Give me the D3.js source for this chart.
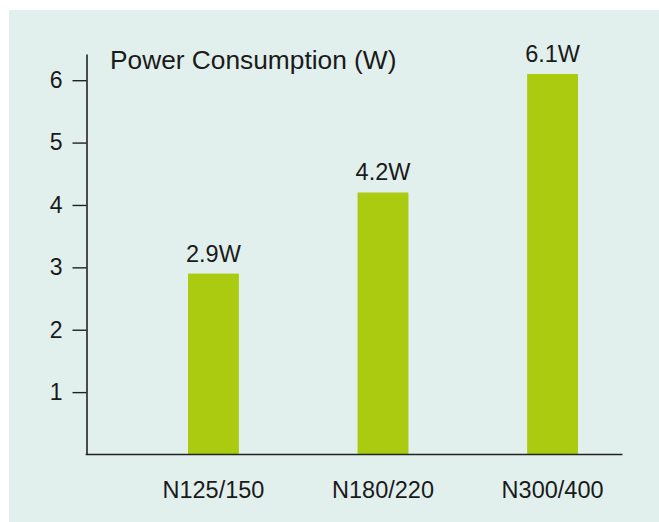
<!DOCTYPE html>
<html>
<head>
<meta charset="utf-8">
<script src="https://cdn.jsdelivr.net/npm/d3@7"></script>
<style>
  html, body { margin: 0; padding: 0; background: #ffffff; }
  svg { display: block; }
  text { font-family: "Liberation Sans", Arial, Helvetica, sans-serif; fill: #1a1a1a; }
</style>
</head>
<body>
<svg id="chart" width="659" height="522"></svg>
<script>
// Power draw per model
const models = ["N125/150", "N180/220", "N300/400"];
const watts = [2.9, 4.2, 6.1];
const valueLabels = ["2.9W", "4.2W", "6.1W"];
const yTicks = [1, 2, 3, 4, 5, 6];
const title = "Power Consumption (W)";

const svg = d3.select("#chart");

// panel background
svg.append("rect")
  .attr("x", 9).attr("y", 10)
  .attr("width", 650).attr("height", 512)
  .attr("fill", "#e2f0ed");

const axisX = 86.5, axisRight = 622.5;
const y = d3.scaleLinear().domain([0, 6.42]).range([454.5, 54]);
const x = d3.scaleBand().domain(models).range([188, 578]).paddingInner(0.7).paddingOuter(0);

// bars
svg.append("g").selectAll("rect")
  .data(models)
  .join("rect")
  .attr("x", d => x(d))
  .attr("width", x.bandwidth())
  .attr("y", (d, i) => y(watts[i]))
  .attr("height", (d, i) => y(0) - y(watts[i]))
  .attr("fill", "#abcb10");

// value labels over bars
svg.append("g").selectAll("text")
  .data(models)
  .join("text")
  .attr("x", d => x(d) + x.bandwidth() / 2)
  .attr("y", (d, i) => y(watts[i]) - 12)
  .attr("text-anchor", "middle")
  .style("font-size", "23.5px")
  .text((d, i) => valueLabels[i]);

// y axis
const yAxis = svg.append("g")
  .attr("transform", `translate(${axisX},0)`)
  .call(d3.axisLeft(y).tickValues(yTicks).tickFormat(d3.format("d")).tickSize(14).tickSizeOuter(0).tickPadding(10));
yAxis.select(".domain").attr("stroke", "#222").attr("stroke-width", 1.6);
yAxis.selectAll(".tick line").attr("stroke", "#222").attr("stroke-width", 1.4);
yAxis.selectAll(".tick text").style("font-size", "23px").attr("fill", "#1a1a1a");

// x baseline
svg.append("line")
  .attr("x1", axisX - 0.8).attr("x2", axisRight)
  .attr("y1", y(0)).attr("y2", y(0))
  .attr("stroke", "#222").attr("stroke-width", 1.6);

// category labels
const xAxis = svg.append("g")
  .attr("transform", `translate(0,${y(0)})`)
  .call(d3.axisBottom(x).tickSize(0).tickPadding(27));
xAxis.select(".domain").remove();
xAxis.selectAll(".tick text").style("font-size", "23.5px").attr("fill", "#1a1a1a");

// title
svg.append("text")
  .attr("x", 110).attr("y", 69)
  .style("font-size", "26.3px")
  .text(title);
</script>
</body>
</html>
